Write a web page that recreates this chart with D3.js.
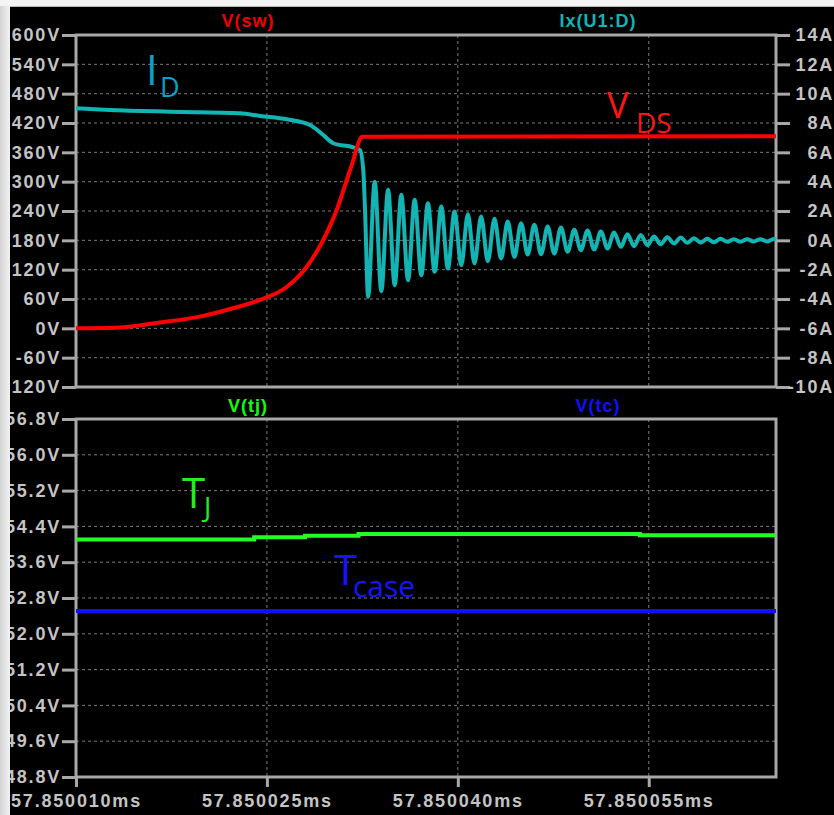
<!DOCTYPE html>
<html>
<head>
<meta charset="utf-8">
<script src="https://cdn.jsdelivr.net/npm/d3@7"></script>
<style>
  body { margin: 0; background: #ececec; }
  svg { display: block; }
  .tick text { font-family: "Liberation Sans", Arial, sans-serif; font-weight: bold; font-size: 18px; letter-spacing: 1.8px; fill: #c4c4c4; }
  .hdr { font-family: "Liberation Sans", Arial, sans-serif; font-weight: bold; font-size: 18px; letter-spacing: 1px; text-anchor: middle; }
  .note { font-family: "Open Sans", "Noto Sans", sans-serif; }
</style>
</head>
<body>
<svg id="chart" width="834" height="815"></svg>
<script>
// time axis is in ns after 57.85 ms
const nsTicks = [10, 25, 40, 55];
const nsTickLabels = ['57.850010ms', '57.850025ms', '57.850040ms', '57.850055ms'];
const voltTicks = [-120, -60, 0, 60, 120, 180, 240, 300, 360, 420, 480, 540, 600];
const ampTicks = [-10, -8, -6, -4, -2, 0, 2, 4, 6, 8, 10, 12, 14];
const tempTicks = [48.8, 49.6, 50.4, 51.2, 52.0, 52.8, 53.6, 54.4, 55.2, 56.0, 56.8];

// V(sw)
const swTime  = [10.0, 13.0, 16.6, 19.74, 22.34, 24.46, 26.58, 28.13, 29.43, 30.48, 31.27, 31.79, 32.18, 32.45, 65.0];
const swVolts = [0, 1, 12, 24, 41, 58, 85, 126, 181, 242, 303, 344, 378, 392, 393];

// Ix(U1:D)
const idTime = [10.0, 12.67, 17.39, 22.89, 24.46, 26.58, 28.39, 29.43, 30.22, 31.79, 32.31, 32.57, 32.71,
  32.95, 33.47, 33.99, 34.52, 35.04, 35.56, 36.09, 36.61, 37.13, 37.65, 38.18, 38.70, 39.22, 39.74,
  40.27, 40.79, 41.31, 41.83, 42.36, 42.88, 43.40, 43.92, 44.45, 44.97, 45.49, 46.01, 46.54, 47.06,
  47.58, 48.10, 48.63, 49.15, 49.67, 50.19, 50.72, 51.24, 51.76, 52.28, 52.81, 53.33, 53.85, 54.37,
  54.90, 55.42, 55.94, 56.46, 56.99, 57.51, 58.03, 58.55, 59.08, 59.60, 60.12, 60.64, 61.17, 61.69,
  62.21, 62.73, 63.26, 63.78, 64.30, 64.82, 65.0];
const idAmps = [9.0, 8.89, 8.77, 8.66, 8.48, 8.25, 7.86, 7.18, 6.62, 6.34, 6.16, 4.8, 2.07,
  -3.85, 4.00, -3.47, 3.45, -3.06, 3.10, -2.72, 2.76, -2.38, 2.53, -2.15, 2.30, -1.92, 1.96,
  -1.70, 1.78, -1.58, 1.62, -1.42, 1.47, -1.24, 1.28, -1.13, 1.17, -0.97, 1.06, -0.95, 0.94,
  -0.90, 0.87, -0.78, 0.72, -0.67, 0.67, -0.63, 0.60, -0.56, 0.53, -0.44, 0.42, -0.40, 0.37,
  -0.33, 0.26, -0.27, 0.21, -0.22, 0.19, -0.17, 0.14, -0.15, 0.10, -0.13, 0.10, -0.10, 0.08,
  -0.09, 0.07, -0.08, 0.08, -0.08, 0.09, 0.05];

// V(tj), V(tc)
const tjTime  = [10.0, 24.0, 28.0, 32.2, 54.3, 65.0];
const tjVolts = [54.11, 54.16, 54.19, 54.23, 54.20, 54.20];
const tcTime  = [10.0, 65.0];
const tcVolts = [52.51, 52.51];

const svg = d3.select('#chart');

const defs = svg.append('defs');
const lg = defs.append('linearGradient').attr('id', 'edge').attr('x1', 0).attr('x2', 1);
lg.append('stop').attr('offset', 0).attr('stop-color', '#d4d4d4');
lg.append('stop').attr('offset', 1).attr('stop-color', '#f2f2f2');

svg.append('rect').attr('x', 0).attr('y', 0).attr('width', 834).attr('height', 815).attr('fill', '#f0f0f0');
svg.append('rect').attr('x', 10).attr('y', 7).attr('width', 824).attr('height', 808).attr('fill', '#000');

const x = d3.scaleLinear().domain([10, 65]).range([76, 776]);
const yV = d3.scaleLinear().domain([-120, 600]).range([387, 35]);
const yA = d3.scaleLinear().domain([-10, 14]).range([387, 35]);
const yT = d3.scaleLinear().domain([48.8, 56.8]).range([777, 419]);

const axisCol = '#a8a8a8';
const gridCol = '#7a7a7a';

function styleAxis(g) {
  g.select('.domain').remove();
  g.selectAll('.tick line').attr('stroke', axisCol).attr('stroke-width', 3);
}

// grid
const grid = svg.append('g');
grid.selectAll('.gv').data(voltTicks.slice(1, -1)).join('line')
  .attr('x1', 76).attr('x2', 776).attr('y1', d => yV(d)).attr('y2', d => yV(d));
grid.selectAll('.gt').data(tempTicks.slice(1, -1)).join('line').attr('class', 'gt')
  .attr('x1', 76).attr('x2', 776).attr('y1', d => yT(d)).attr('y2', d => yT(d));
grid.selectAll('.gx').data(nsTicks.slice(1)).join('line').attr('class', 'gx')
  .attr('x1', d => x(d)).attr('x2', d => x(d)).attr('y1', 35).attr('y2', 387);
grid.selectAll('.gx2').data(nsTicks.slice(1)).join('line').attr('class', 'gx2')
  .attr('x1', d => x(d)).attr('x2', d => x(d)).attr('y1', 419).attr('y2', 777);
grid.selectAll('line').attr('stroke', gridCol).attr('stroke-width', 1).attr('stroke-dasharray', '3,3');

// axes
svg.append('g').attr('transform', 'translate(76,0)')
  .call(d3.axisLeft(yV).tickValues(voltTicks).tickSize(14).tickPadding(1).tickFormat(d => d + 'V'))
  .call(styleAxis);
svg.append('g').attr('transform', 'translate(776,0)')
  .call(d3.axisRight(yA).tickValues(ampTicks).tickSize(14).tickFormat(d => d + 'A'))
  .call(styleAxis)
  .call(g => g.selectAll('.tick text').attr('x', 58).attr('text-anchor', 'end'));
svg.append('g').attr('transform', 'translate(76,0)')
  .call(d3.axisLeft(yT).tickValues(tempTicks).tickSize(14).tickPadding(1).tickFormat(d => d.toFixed(1) + 'V'))
  .call(styleAxis);
svg.append('g').attr('transform', 'translate(0,777)')
  .call(d3.axisBottom(x).tickValues(nsTicks).tickSize(10).tickFormat((d, i) => nsTickLabels[i]))
  .call(styleAxis)
  .call(g => g.selectAll('.tick text').attr('y', 30).attr('dy', 0));

// frames
svg.append('rect').attr('x', 76).attr('y', 35).attr('width', 700).attr('height', 352)
  .attr('fill', 'none').attr('stroke', axisCol).attr('stroke-width', 3);
svg.append('rect').attr('x', 76).attr('y', 419).attr('width', 700).attr('height', 358)
  .attr('fill', 'none').attr('stroke', axisCol).attr('stroke-width', 3);

// traces
const lineV = d3.line().x(d => x(d[0])).y(d => yV(d[1])).curve(d3.curveMonotoneX);
const lineA = d3.line().x(d => x(d[0])).y(d => yA(d[1])).curve(d3.curveMonotoneX);
const lineT = d3.line().x(d => x(d[0])).y(d => yT(d[1])).curve(d3.curveStepAfter);

svg.append('path').datum(d3.zip(idTime, idAmps)).attr('d', lineA)
  .attr('fill', 'none').attr('stroke', '#12b4b4').attr('stroke-width', 4).attr('stroke-linejoin', 'round');
svg.append('path').datum(d3.zip(swTime, swVolts)).attr('d', lineV)
  .attr('fill', 'none').attr('stroke', '#ff0000').attr('stroke-width', 4).attr('stroke-linejoin', 'round');
svg.append('path').datum(d3.zip(tjTime, tjVolts)).attr('d', lineT)
  .attr('fill', 'none').attr('stroke', '#22ff22').attr('stroke-width', 4);
svg.append('path').datum(d3.zip(tcTime, tcVolts)).attr('d', lineT)
  .attr('fill', 'none').attr('stroke', '#1010ff').attr('stroke-width', 4);

// trace headers
const hdrs = [
  {t: 'V(sw)', x: 248, y: 27, c: '#ee0000'},
  {t: 'Ix(U1:D)', x: 598, y: 27, c: '#10b4b4'},
  {t: 'V(tj)', x: 248, y: 412, c: '#10ff10'},
  {t: 'V(tc)', x: 598, y: 412, c: '#1010ff'}
];
svg.selectAll('.hdr').data(hdrs).join('text').attr('class', 'hdr')
  .attr('x', d => d.x).attr('y', d => d.y).attr('fill', d => d.c).text(d => d.t);

// annotations
const notes = [
  {t: 'I', x: 146, y: 85, s: 42, c: '#0aa0cc'},
  {t: 'D', x: 160, y: 97, s: 27, c: '#0aa0cc'},
  {t: 'V', x: 607, y: 118, s: 36, c: '#ff1414'},
  {t: 'DS', x: 636, y: 133, s: 28, c: '#ff1414'},
  {t: 'T', x: 182, y: 508, s: 42, c: '#22ee22'},
  {t: 'J', x: 204, y: 517, s: 27, c: '#22ee22'},
  {t: 'T', x: 334, y: 585, s: 42, c: '#1414ff'},
  {t: 'case', x: 353, y: 597, s: 30, c: '#1414ff'}
];
svg.selectAll('.note').data(notes).join('text').attr('class', 'note')
  .attr('x', d => d.x).attr('y', d => d.y).attr('font-size', d => d.s).attr('fill', d => d.c).text(d => d.t);

// screen edges
svg.append('rect').attr('x', 0).attr('y', 0).attr('width', 10).attr('height', 815).attr('fill', 'url(#edge)');
svg.append('rect').attr('x', 0).attr('y', 0).attr('width', 834).attr('height', 6).attr('fill', '#f4f4f4');
svg.append('line').attr('x1', 10).attr('x2', 834).attr('y1', 6.5).attr('y2', 6.5).attr('stroke', '#b8b8b8');
</script>
</body>
</html>
